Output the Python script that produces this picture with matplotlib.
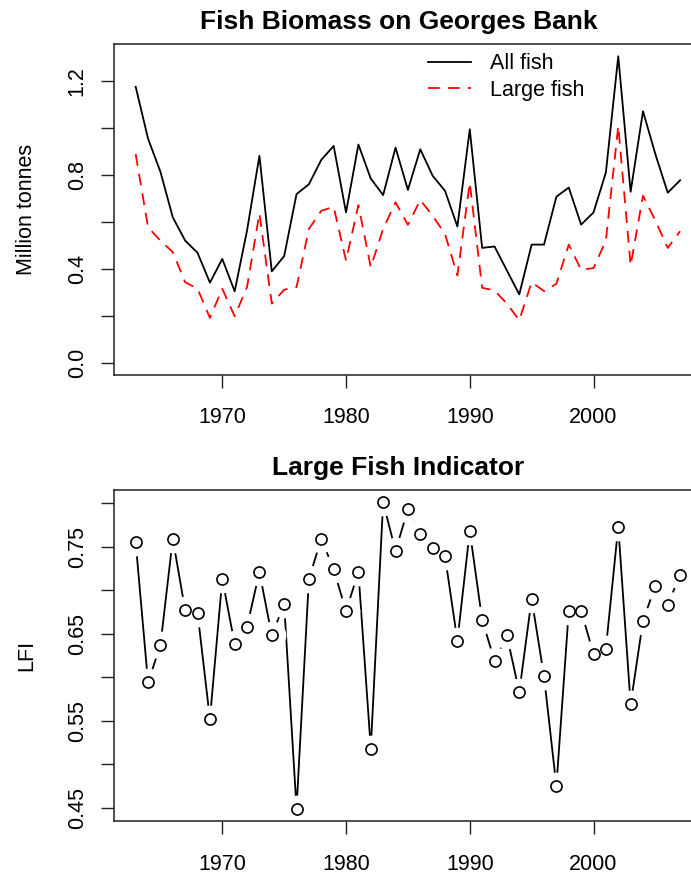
import matplotlib
matplotlib.use("Agg")
import matplotlib.pyplot as plt
import numpy as np

plt.rcParams['font.family'] = ['Liberation Sans', 'DejaVu Sans']

years = list(range(1963, 2008))

# biomass in million tonnes
all_fish = [1.175, 0.954, 0.813, 0.619, 0.520, 0.468, 0.341, 0.442, 0.304, 0.563,
            0.881, 0.389, 0.454, 0.718, 0.760, 0.864, 0.923, 0.640, 0.929, 0.784,
            0.714, 0.916, 0.736, 0.909, 0.796, 0.732, 0.580, 0.994, 0.489, 0.495,
            0.393, 0.291, 0.503, 0.503, 0.707, 0.746, 0.588, 0.640, 0.810, 1.305,
            0.728, 1.071, 0.888, 0.724, 0.777]
large_fish = [0.888, 0.577, 0.520, 0.471, 0.343, 0.315, 0.191, 0.315, 0.198, 0.322,
              0.636, 0.252, 0.311, 0.322, 0.570, 0.647, 0.664, 0.435, 0.671, 0.407,
              0.570, 0.683, 0.587, 0.693, 0.626, 0.548, 0.372, 0.767, 0.319, 0.308,
              0.252, 0.181, 0.343, 0.305, 0.336, 0.503, 0.396, 0.403, 0.520, 1.008,
              0.414, 0.711, 0.605, 0.489, 0.560]

# large fish indicator
lfi = [0.755, 0.594, 0.637, 0.759, 0.677, 0.674, 0.552, 0.713, 0.638, 0.658,
       0.721, 0.648, 0.684, 0.449, 0.713, 0.759, 0.724, 0.676, 0.721, 0.518,
       0.801, 0.745, 0.793, 0.765, 0.749, 0.739, 0.642, 0.768, 0.666, 0.619,
       0.648, 0.583, 0.690, 0.601, 0.475, 0.676, 0.676, 0.627, 0.633, 0.773,
       0.569, 0.665, 0.705, 0.683, 0.718]

year_ticks = [1970, 1980, 1990, 2000]
biomass_ticks = [0.0, 0.2, 0.4, 0.6, 0.8, 1.0, 1.2]
biomass_labels = ["0.0", "", "0.4", "", "0.8", "", "1.2"]
lfi_ticks = [0.45, 0.50, 0.55, 0.60, 0.65, 0.70, 0.75, 0.80]
lfi_labels = ["0.45", "", "0.55", "", "0.65", "", "0.75", ""]

W, H = 691, 881
fig = plt.figure(figsize=(W / 100, H / 100), dpi=100)

left = 113.9 / W
width = 588 / W
height = 331 / H
ax1 = fig.add_axes([left, (H - 375) / H, width, height])
ax2 = fig.add_axes([left, (H - 821) / H, width, height])


def r_limits(lo, hi):
    pad = (hi - lo) * 0.04
    return lo - pad, hi + pad


def style_axes(ax, yticks, ylabels, ylabel):
    ax.set_xticks(year_ticks)
    ax.set_xticklabels([str(y) for y in year_ticks])
    ax.set_yticks(yticks)
    ax.set_yticklabels(ylabels)
    ax.tick_params(direction='out', length=9.4, width=1.0, labelsize=15.5,
                   color='#222222')
    ax.tick_params(axis='x', pad=14)
    ax.tick_params(axis='y', pad=9.5)
    for lab in ax.get_yticklabels():
        lab.set_rotation(90)
        lab.set_va('center')
    for sp in ax.spines.values():
        sp.set_linewidth(1.1)
        sp.set_color('#222222')
    ax.set_ylabel(ylabel, fontsize=15.5)
    ax.yaxis.set_label_coords(-0.131, 0.5)


# top panel: biomass
ax1.plot(years, all_fish, color='black', lw=1.3, label='All fish')
ax1.plot(years, large_fish, color='red', lw=1.3, dashes=(6.5, 4.5),
         label='Large fish')
ax1.set_xlim(*r_limits(min(years), max(years)))
ax1.set_ylim(*r_limits(0, max(all_fish)))
style_axes(ax1, biomass_ticks, biomass_labels, 'Million tonnes')
ax1.set_title('Fish Biomass on Georges Bank', fontsize=19, fontweight='bold',
              x=0.484, pad=10.8)
ax1.legend(loc='upper left', bbox_to_anchor=((424 - 113.9) / 588, 1.0 - 5 / 331),
           frameon=False, fontsize=15.5, handlelength=2.0, handletextpad=0.85,
           labelspacing=0.25, borderpad=0.2, borderaxespad=0.0)

# bottom panel: LFI drawn like R's type="b" (gaps round the points)
ax2.plot(years, lfi, color='black', lw=1.3, zorder=2)
ax2.plot(years, lfi, linestyle='none', marker='o', markersize=20,
         markerfacecolor='white', markeredgecolor='none', zorder=2.2)
ax2.plot(years, lfi, linestyle='none', marker='o', markersize=8,
         markerfacecolor='white', markeredgecolor='black', markeredgewidth=1.2,
         zorder=2.3)
ax2.set_xlim(*r_limits(min(years), max(years)))
ax2.set_ylim(*r_limits(min(lfi), max(lfi)))
style_axes(ax2, lfi_ticks, lfi_labels, 'LFI')
ax2.set_title('Large Fish Indicator', fontsize=19, fontweight='bold',
              x=0.484, pad=11.0)

fig.savefig('out.png', dpi=100)
